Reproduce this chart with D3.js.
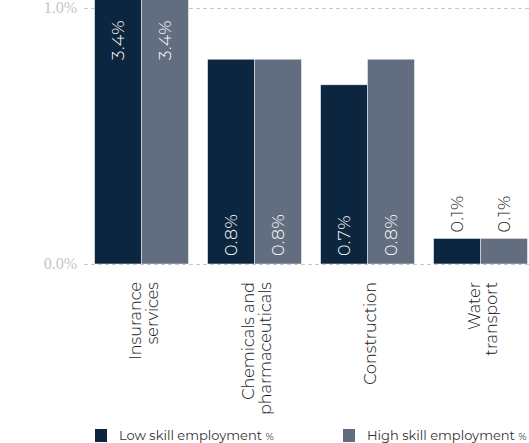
<!DOCTYPE html>
<html><head><meta charset="utf-8">
<script src="https://cdn.jsdelivr.net/npm/d3@7"></script>
<style>
html,body{margin:0;padding:0;background:#fff;overflow:hidden;}
svg{display:block;}
</style></head>
<body>
<svg id="chart" width="529" height="443"></svg>
<script>
const categories = [["Insurance","services"],["Chemicals and","pharmaceuticals"],["Construction"],["Water","transport"]];
const categoryKeys = ["Insurance services","Chemicals and pharmaceuticals","Construction","Water transport"];
const seriesNames = ["Low skill employment", "High skill employment"];
const lowSkill = [3.4, 0.8, 0.7, 0.1];
const highSkill = [3.4, 0.8, 0.8, 0.1];
const yTicks = [0, 1];
const colors = ["#0d2640", "#626e80"];

const svg = d3.select("#chart");
const yTop = 8, yBase = 264;
const y = d3.scaleLinear().domain([0, 1]).range([yBase, yTop]);
const x = d3.scaleBand().domain(categoryKeys).range([85, 537]).paddingInner(0.17).paddingOuter(0.085);
const x1 = d3.scaleBand().domain([0, 1]).range([0, x.bandwidth()]);

const defs = svg.append("defs");
defs.append("clipPath").attr("id","plotclip").append("rect")
  .attr("x", 0).attr("y", 0).attr("width", 529).attr("height", yBase);

// grid
const grid = svg.append("g");
grid.selectAll("line").data(yTicks).join("line")
  .attr("x1", 84).attr("x2", 529)
  .attr("y1", d => y(d) + 0.5).attr("y2", d => y(d) + 0.5)
  .attr("stroke", "#c8c8c8").attr("stroke-width", 1).attr("stroke-dasharray", "4,3");
grid.selectAll("text").data(yTicks).join("text")
  .attr("x", 77).attr("y", d => y(d) + 5)
  .attr("text-anchor", "end")
  .attr("font-family", "'Liberation Serif', 'DejaVu Serif', serif")
  .attr("font-weight", 400)
  .attr("font-size", 16).attr("fill", "#c4c6c9")
  .text(d => d3.format(".1f")(d) + "%");

const data = categoryKeys.map((k, i) => ({key: k, vals: [lowSkill[i], highSkill[i]]}));

const groups = svg.append("g").attr("clip-path", "url(#plotclip)")
  .selectAll("g").data(data).join("g")
  .attr("transform", d => `translate(${x(d.key)},0)`);

groups.selectAll("rect").data(d => d.vals.map((v, j) => ({v, j}))).join("rect")
  .attr("x", d => x1(d.j))
  .attr("width", x1.bandwidth())
  .attr("y", d => y(d.v))
  .attr("height", d => yBase - y(d.v))
  .attr("fill", d => colors[d.j])
  .attr("stroke", "#e8ebef").attr("stroke-width", 0.6);

// value labels
const labelG = svg.append("g");
data.forEach(d => {
  d.vals.forEach((v, j) => {
    const cx = x(d.key) + x1(j) + x1.bandwidth() / 2;
    const top = y(v);
    let ty, anchor, fill;
    if (top < yTop) { ty = yTop + 12; anchor = "end"; fill = "#fff"; }
    else if (yBase - top > 50) { ty = yBase - 8; anchor = "start"; fill = "#fff"; }
    else { ty = top - 6; anchor = "start"; fill = "#222"; }
    labelG.append("text")
      .attr("transform", `translate(${cx + 6},${ty}) rotate(-90)`)
      .attr("text-anchor", anchor)
      .attr("font-family", "Montserrat, Lato, 'Open Sans', sans-serif")
      .attr("font-weight", 300)
      .attr("font-size", 17.5)
      .attr("letter-spacing", 0.5)
      .attr("fill", fill)
      .text(d3.format(".1f")(v) + "%");
  });
});

// category labels
const catG = svg.append("g");
data.forEach((d, i) => {
  const lines = categories[i];
  const cx = x(d.key) + x.bandwidth() / 2;
  const lh = 16.5;
  lines.forEach((ln, li) => {
    const off = (li - (lines.length - 1) / 2) * lh;
    catG.append("text")
      .attr("transform", `translate(${cx + off + 8},282) rotate(-90)`)
      .attr("text-anchor", "end")
      .attr("font-family", "Montserrat, Lato, 'Open Sans', sans-serif")
      .attr("font-weight", 300)
      .attr("font-size", 16)
      .attr("fill", "#222")
      .text(ln);
  });
});

// legend
const legX = [95, 343];
const leg = svg.append("g");
seriesNames.forEach((s, i) => {
  leg.append("rect").attr("x", legX[i]).attr("y", 429).attr("width", 12).attr("height", 13).attr("fill", colors[i]);
  const t = leg.append("text").attr("x", legX[i] + 24).attr("y", 440)
    .attr("font-family", "Montserrat, Lato, 'Open Sans', sans-serif")
    .attr("font-size", 13).attr("fill", "#333");
  t.append("tspan").text(s + " ");
  t.append("tspan").attr("font-size", 10).text("%");
});
</script>
</body></html>
